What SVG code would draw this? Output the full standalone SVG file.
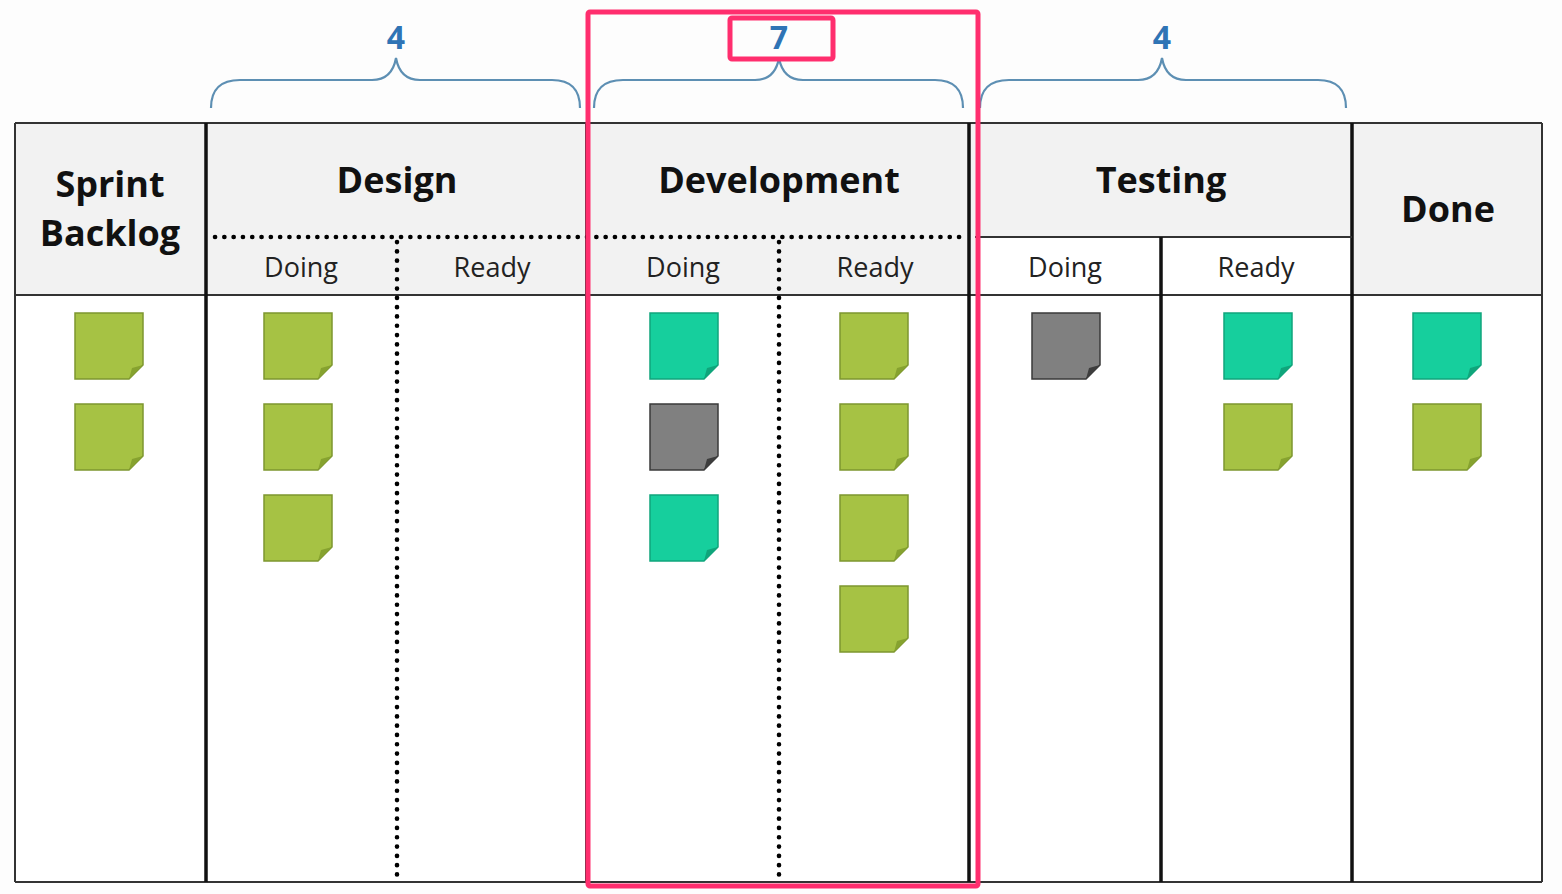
<svg xmlns="http://www.w3.org/2000/svg" width="1562" height="894" viewBox="0 0 1562 894">
<defs>
<style>
.hdr{font-family:"Open Sans","DejaVu Sans",sans-serif;font-weight:bold;font-size:36px;fill:#111;text-anchor:middle}
.sub{font-family:"Open Sans","DejaVu Sans",sans-serif;font-size:27px;fill:#222;text-anchor:middle}
.num{font-family:"Open Sans","DejaVu Sans",sans-serif;font-weight:bold;font-size:32px;fill:#2f74b5;text-anchor:middle}
.brace{fill:none;stroke:#5d8fb3;stroke-width:2.2}
.dot{stroke:#000;stroke-width:4.6;stroke-linecap:round;stroke-dasharray:0.1 9.2;fill:none}
.thick{stroke:#111;stroke-width:3.5}
.thin{stroke:#333;stroke-width:2}
.pink{fill:none;stroke:#ff2e6e;stroke-width:5}
.g{fill:#a6c244;stroke:#7d962f;stroke-width:1.5}
.gf{fill:#86a22f}
.t{fill:#16cf9d;stroke:#10a57c;stroke-width:1.5}
.tf{fill:#0fa57b}
.k{fill:#808080;stroke:#3a3a3a;stroke-width:1.5}
.kf{fill:#3d3d3d}
</style>
<symbol id="sg" overflow="visible"><path class="g" d="M0,0 H68 V52 L54,66 H0 Z"/><path class="gf" d="M54,66 L68,52 L57,55 Z"/></symbol>
<symbol id="st" overflow="visible"><path class="t" d="M0,0 H68 V52 L54,66 H0 Z"/><path class="tf" d="M54,66 L68,52 L57,55 Z"/></symbol>
<symbol id="sk" overflow="visible"><path class="k" d="M0,0 H68 V52 L54,66 H0 Z"/><path class="kf" d="M54,66 L68,52 L57,55 Z"/></symbol>
</defs>
<rect width="1562" height="894" fill="#fdfdfd"/>
<g id="board">
<rect x="15" y="123" width="1527" height="172" fill="#f2f2f2"/>
<rect x="975" y="237" width="377" height="58" fill="#ffffff"/>
<rect x="15" y="295" width="1527" height="587" fill="#ffffff"/>
<line class="thin" x1="15" y1="123" x2="1542" y2="123"/>
<line class="thin" x1="15" y1="295" x2="1542" y2="295"/>
<line class="thin" x1="15" y1="882" x2="1542" y2="882"/>
<line class="thin" x1="15" y1="123" x2="15" y2="882"/>
<line class="thin" x1="1542" y1="123" x2="1542" y2="882" stroke-width="2.5"/>
<line class="thick" x1="206" y1="123" x2="206" y2="882"/>
<line class="thin" x1="586" y1="123" x2="586" y2="882"/>
<line class="thick" x1="969" y1="123" x2="969" y2="882"/>
<line class="thick" x1="1352" y1="123" x2="1352" y2="882"/>
<line class="thin" x1="975" y1="237" x2="1352" y2="237" stroke-width="2.5"/>
<line class="thick" x1="1161" y1="237" x2="1161" y2="882" stroke-width="3"/>
<line class="dot" x1="215" y1="237" x2="968" y2="237"/>
<line class="dot" x1="397" y1="242" x2="397" y2="878"/>
<line class="dot" x1="779" y1="242" x2="779" y2="878"/>
</g>
<g id="col-backlog">
<text class="hdr" x="110" y="197">Sprint</text>
<text class="hdr" x="110" y="246">Backlog</text>
<use href="#sg" x="75" y="313"/><use href="#sg" x="75" y="404"/>
</g>
<g id="col-design">
<text class="hdr" x="397" y="193">Design</text>
<text class="sub" x="301" y="277">Doing</text>
<text class="sub" x="492" y="277">Ready</text>
<use href="#sg" x="264" y="313"/><use href="#sg" x="264" y="404"/><use href="#sg" x="264" y="495"/>
</g>
<g id="col-development">
<text class="hdr" x="779" y="193">Development</text>
<text class="sub" x="683" y="277">Doing</text>
<text class="sub" x="875" y="277">Ready</text>
<use href="#st" x="650" y="313"/><use href="#sk" x="650" y="404"/><use href="#st" x="650" y="495"/>
<use href="#sg" x="840" y="313"/><use href="#sg" x="840" y="404"/><use href="#sg" x="840" y="495"/><use href="#sg" x="840" y="586"/>
</g>
<g id="col-testing">
<text class="hdr" x="1161" y="193">Testing</text>
<text class="sub" x="1065" y="277">Doing</text>
<text class="sub" x="1256" y="277">Ready</text>
<use href="#sk" x="1032" y="313"/>
<use href="#st" x="1224" y="313"/><use href="#sg" x="1224" y="404"/>
</g>
<g id="col-done">
<text class="hdr" x="1448" y="222">Done</text>
<use href="#st" x="1413" y="313"/><use href="#sg" x="1413" y="404"/>
</g>
<g id="wip-limits">
<path class="brace" d="M211,108 Q211,80 240,80 L372,80 Q392,80 396,58 Q400,80 420,80 L552,80 Q580,80 580,108"/>
<text class="num" x="396" y="49">4</text>
<path class="brace" d="M594,108 Q594,80 623,80 L755,80 Q775,80 779,58 Q783,80 803,80 L935,80 Q963,80 963,108"/>
<text class="num" x="779" y="49">7</text>
<path class="brace" d="M980,108 Q980,80 1009,80 L1138,80 Q1158,80 1162,58 Q1166,80 1186,80 L1318,80 Q1346,80 1346,108"/>
<text class="num" x="1162" y="49">4</text>
</g>
<g id="highlight">
<rect class="pink" x="588" y="12" width="390" height="874" rx="2"/>
<rect class="pink" x="730" y="18" width="103" height="41" rx="2"/>
</g>
</svg>
